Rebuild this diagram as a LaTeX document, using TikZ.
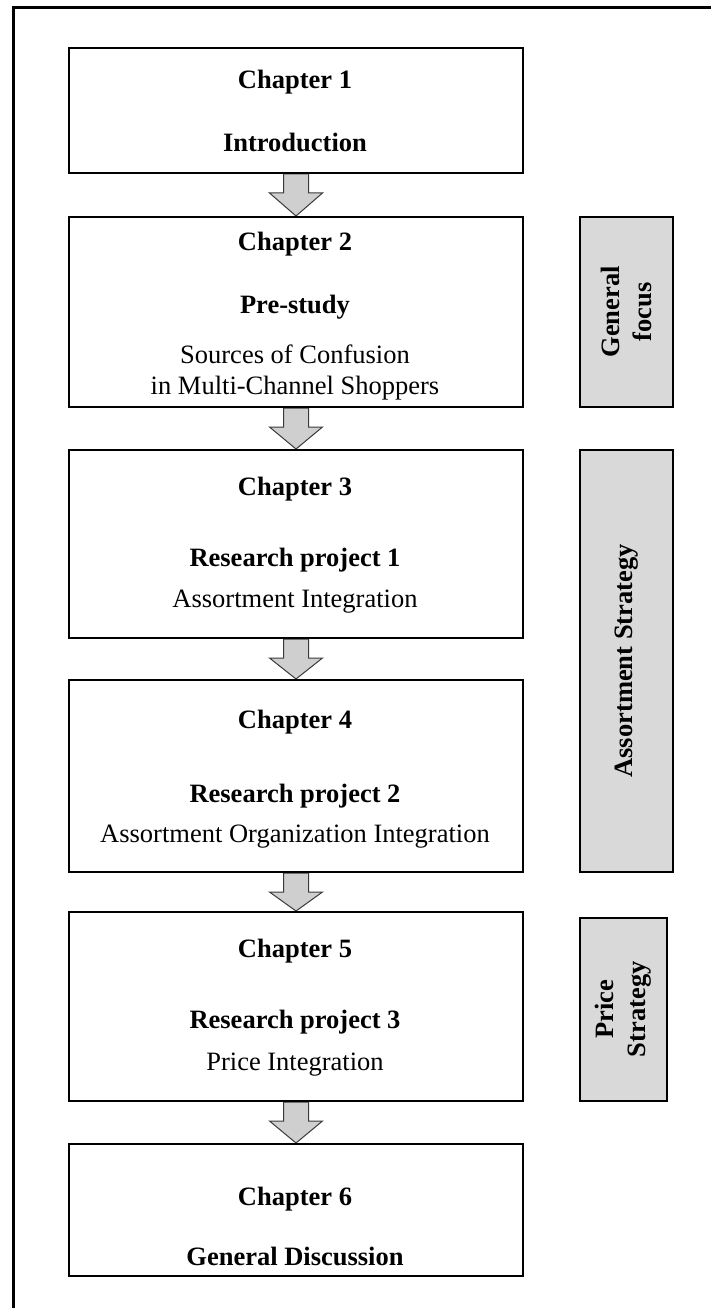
\documentclass[tikz,border=0pt]{standalone}
\usepackage{fontspec}
\setmainfont{Liberation Serif}
\usetikzlibrary{calc,backgrounds}

\definecolor{arrowfill}{HTML}{CFCFCF}
\definecolor{arrowline}{HTML}{3A3A3A}
\definecolor{sidefill}{HTML}{D9D9D9}

\tikzset{
  chapbox/.style={draw=black, line width=2pt, rectangle, inner sep=0pt,
    minimum width=454pt, anchor=north west},
  sidebox/.style={draw=black, line width=1.6pt, fill=sidefill, rectangle,
    inner sep=0pt, anchor=north west},
  headline/.style={font=\bfseries\fontsize{26.5}{30}\selectfont, inner sep=0pt, anchor=base},
  bodyline/.style={font=\fontsize{26.5}{30}\selectfont, inner sep=0pt, anchor=base},
  sidetext/.style={font=\bfseries\fontsize{26.5}{32}\selectfont, align=center,
    rotate=90, inner sep=0pt},
  flowarrow/.style={fill=arrowfill, draw=arrowline, line width=1pt, line join=miter},
}

% block arrow from the bottom of one box to the top of the next
\newcommand\flowstep[2]{%
  \draw[flowarrow]
    ($(#1.south)+(-12.5,0)$) -- ($(#1.south)+(-12.5,19)$) --
    ($(#1.south)+(-26.5,19)$) -- (#2.north) --
    ($(#1.south)+(26.5,19)$) -- ($(#1.south)+(12.5,19)$) --
    ($(#1.south)+(12.5,0)$) -- cycle;}

\begin{document}
\begin{tikzpicture}[x=1pt,y=-1pt]
\useasboundingbox (0,0) rectangle (710,1308);

% page frame
\draw[line width=3pt] (13,1312) -- (13,8) -- (714,8);

% chapter boxes
\node[chapbox, minimum height=125pt] (ch1) at (68,47) {};
\node[chapbox, minimum height=190pt] (ch2) at (68,216) {};
\node[chapbox, minimum height=188pt] (ch3) at (68,449) {};
\node[chapbox, minimum height=192pt] (ch4) at (68,679) {};
\node[chapbox, minimum height=189pt] (ch5) at (68,911) {};
\node[chapbox, minimum height=132pt] (ch6) at (68,1143) {};

% chapter texts
\node[headline] (t1a) at (295,89) {Chapter 1};
\node[headline] (t1b) at (295,152) {Introduction};

\node[headline] (t2a) at (295,250) {Chapter 2};
\node[headline] (t2b) at (295,313) {Pre-study};
\node[bodyline] (t2c) at (295,363) {Sources of Confusion};
\node[bodyline] (t2d) at (295,394) {in Multi-Channel Shoppers};

\node[headline] (t3a) at (295,495) {Chapter 3};
\node[headline] (t3b) at (295,566) {Research project 1};
\node[bodyline] (t3c) at (295,607) {Assortment Integration};

\node[headline] (t4a) at (295,728) {Chapter 4};
\node[headline] (t4b) at (295,802) {Research project 2};
\node[bodyline] (t4c) at (295,842) {Assortment Organization Integration};

\node[headline] (t5a) at (295,957) {Chapter 5};
\node[headline] (t5b) at (295,1028) {Research project 3};
\node[bodyline] (t5c) at (295,1070) {Price Integration};

\node[headline] (t6a) at (295,1205) {Chapter 6};
\node[headline] (t6b) at (295,1265) {General Discussion};

% arrows between consecutive chapters
\begin{scope}[on background layer]
  \flowstep{ch1}{ch2}
  \flowstep{ch2}{ch3}
  \flowstep{ch3}{ch4}
  \flowstep{ch4}{ch5}
  \flowstep{ch5}{ch6}
\end{scope}

% focus bars on the right
\node[sidebox, minimum width=93pt, minimum height=190pt] (focus) at (579,216) {};
\node[sidebox, minimum width=93pt, minimum height=422pt] (assort) at (579,449) {};
\node[sidebox, minimum width=87pt, minimum height=183pt] (price) at (579,917) {};

\node[sidetext] (focustext) at (focus.center) {General\\focus};
\node[sidetext] (assorttext) at (assort.center) {Assortment Strategy};
\node[sidetext] (pricetext) at (price.center) {Price\\Strategy};
\end{tikzpicture}
\end{document}
